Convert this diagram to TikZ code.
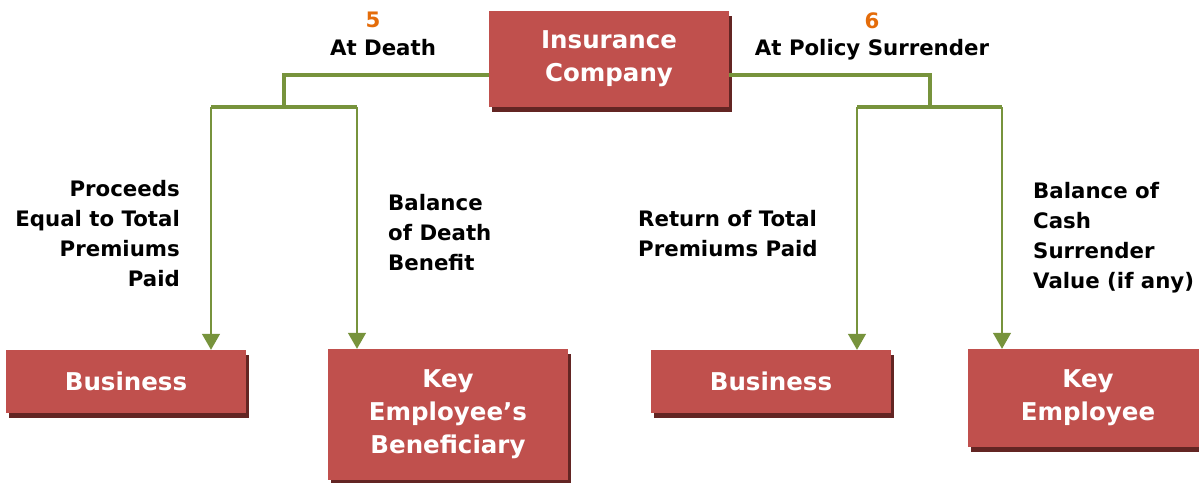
\documentclass[tikz,border=0pt]{standalone}
\usepackage{fontspec}
\setmainfont{DejaVu Sans}
\usetikzlibrary{arrows.meta, positioning, shadows}
\definecolor{boxred}{HTML}{C0504D}
\definecolor{boxshade}{HTML}{632523}
\definecolor{linegreen}{HTML}{77933C}
\definecolor{numorange}{HTML}{E46C0A}

\begin{document}
\begin{tikzpicture}[x=1pt, y=-1pt,
  box/.style={rectangle, fill=boxred, text=white, minimum width=240pt, align=center,
    font=\bfseries\fontsize{24.5}{33}\selectfont,
    drop shadow={shadow xshift=3pt, shadow yshift=-5pt, fill=boxshade, opacity=1}},
  lbl/.style={inner sep=0pt, font=\bfseries\fontsize{21.3}{30}\selectfont},
  num/.style={inner sep=0pt, text=numorange, font=\bfseries\fontsize{21.3}{24}\selectfont},
  trunk/.style={draw=linegreen, line width=3.2pt},
  arr/.style={draw=linegreen, line width=1.3pt, -{Triangle[width=18pt, length=16pt]}}]

\useasboundingbox (0,0) rectangle (1199,482);

% Boxes
\node[box, minimum height=96pt] (ins) at (609,59) {Insurance\\Company};
\node[box, minimum height=63pt] (bus1) at (126,381.5) {Business};
\node[box, minimum height=131pt] (keb) at (448,414.5) {Key\\Employee’s\\Beneficiary};
\node[box, minimum height=63pt] (bus2) at (771,381.5) {Business};
\node[box, minimum height=98pt] (key) at (1088,398) {Key\\Employee};

% Branch points
\coordinate (ljoin) at (284,75);
\coordinate (lsplit) at (284,107);
\coordinate (la) at (211,107);
\coordinate (lb) at (357,107);
\coordinate (rjoin) at (930,75);
\coordinate (rsplit) at (930,107);
\coordinate (ra) at (857,107);
\coordinate (rb) at (1002,107);

% Lines
\draw[trunk] (ins.west |- ljoin) -- (ljoin) -- (lsplit);
\draw[trunk] (la) -- (lb);
\draw[trunk] (ins.east |- rjoin) -- (rjoin) -- (rsplit);
\draw[trunk] (ra) -- (rb);
\draw[arr] (la) -- (la |- bus1.north);
\draw[arr] (lb) -- (lb |- keb.north);
\draw[arr] (ra) -- (ra |- bus2.north);
\draw[arr] (rb) -- (rb |- key.north);

% Labels
\node[num] (n5) at (373,20) {5};
\node[lbl] (death) at (383,48) {At Death};
\node[num] (n6) at (872,21) {6};
\node[lbl] (surr) at (872,50) {At Policy Surrender};
\node[lbl, anchor=east, align=right] (proc) at (180,233.5) {Proceeds\\Equal to Total\\Premiums\\Paid};
\node[lbl, anchor=west, align=left] (bal) at (388,233) {Balance\\of Death\\Benefit};
\node[lbl, anchor=west, align=left] (ret) at (638,234) {Return of Total\\Premiums Paid};
\node[lbl, anchor=west, align=left] (cash) at (1033,237.5) {Balance of\\Cash\\Surrender\\Value (if any)};

\end{tikzpicture}
\end{document}
